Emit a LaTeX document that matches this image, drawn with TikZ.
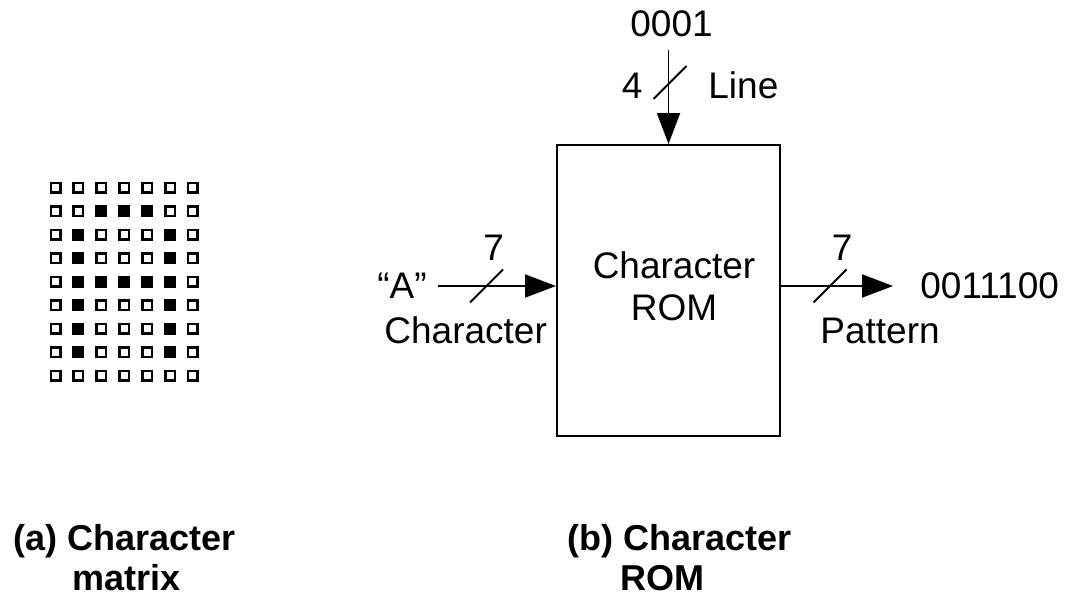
\documentclass[tikz,border=0pt]{standalone}
\usepackage{fontspec}
\setmainfont{Liberation Sans}
\usetikzlibrary{arrows.meta,calc}
\begin{document}
\begin{tikzpicture}[x=0.5pt,y=-0.5pt,
  lbl/.style={inner sep=0pt,anchor=base west,font=\fontsize{18.5}{21}\selectfont},
  midlbl/.style={inner sep=0pt,anchor=base,font=\fontsize{18.5}{21}\selectfont},
  captxt/.style={inner sep=0pt,anchor=base west,font=\fontsize{18}{21}\selectfont\bfseries},
  bus/.style={line width=0.95pt,-{Triangle[length=15.5pt,width=11.5pt]}},
  tick/.style={line width=0.95pt},
  cell/.style={draw,line width=1.25pt,minimum size=4.75pt,inner sep=0pt},
  dot/.style={cell,fill=black},
  rombox/.style={draw,line width=1pt,minimum width=111.5pt,minimum height=145.5pt,inner sep=0pt}]

% page area
\fill[white] (0,0) rectangle (1079,605);
\useasboundingbox (0,0) rectangle (1079,605);

% 7x9 dot matrix of the letter A
\foreach \r in {0,...,8}
  \foreach \c in {0,...,6}
    \node[cell] (m-\r-\c) at ({55.5+22.9*\c},{187.5+23.5*\r}) {};
\foreach \r/\c in {1/2,1/3,1/4,
                   2/1,2/5,3/1,3/5,
                   4/1,4/2,4/3,4/4,4/5,
                   5/1,5/5,6/1,6/5,7/1,7/5}
  \node[dot] (f-\r-\c) at (m-\r-\c) {};

% character ROM block
\node[rombox] (rom) at (668.5,290.5) {};
\node[midlbl] (romt1) at (674,278) {Character};
\node[midlbl] (romt2) at (674,320) {ROM};

% line select input
\node[lbl] (linev) at (630,36.7) {0001};
\coordinate (lin) at (668.5,50);
\draw[bus] (lin) -- (rom.north);
\draw[tick] (653.5,99) -- ++(33,-33);
\node[lbl] (lwidth) at (621.5,98) {4};
\node[lbl] (lname) at (708,98) {Line};

% character code input
\coordinate (cin) at (438,286);
\draw[bus] (cin) -- (cin -| rom.west);
\draw[tick] (470,302.5) -- ++(33,-33);
\node[lbl] (cwidth) at (483,260) {7};
\node[lbl] (cval) at (377,298) {“A”};
\node[lbl] (cname) at (384,343) {Character};

% pattern output
\coordinate (cout) at (893,286);
\draw[bus] (cout -| rom.east) -- (cout);
\draw[tick] (813.5,302.5) -- ++(33,-33);
\node[lbl] (pwidth) at (831.5,260) {7};
\node[lbl] (pval) at (920,298) {0011100};
\node[lbl] (pname) at (820,343) {Pattern};

% captions
\node[captxt] (capa1) at (13,550) {(a) Character};
\node[captxt] (capa2) at (72,590) {matrix};
\node[captxt] (capb1) at (567,550) {(b) Character};
\node[captxt] (capb2) at (620,590) {ROM};
\end{tikzpicture}
\end{document}
